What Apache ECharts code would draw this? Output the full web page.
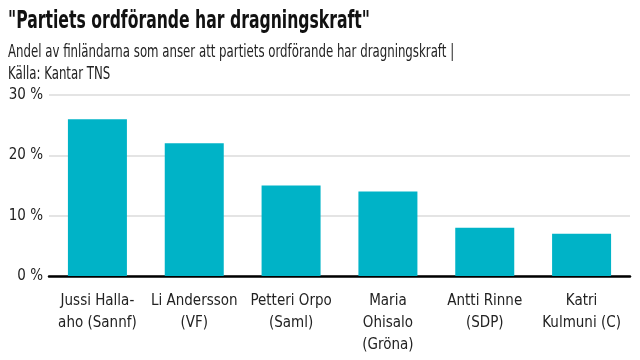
<!DOCTYPE html>
<html><head><meta charset="utf-8">
<script src="https://cdn.jsdelivr.net/npm/echarts@6/dist/echarts.min.js"></script>
<style>html,body{margin:0;padding:0;background:#fff}#c{width:640px;height:360px}</style>
</head><body><div id="c"></div>
<script>
const categories = ["Jussi Halla-\naho (Sannf)", "Li Andersson\n(VF)", "Petteri Orpo\n(Saml)", "Maria\nOhisalo\n(Gröna)", "Antti Rinne\n(SDP)", "Katri\nKulmuni (C)"];
const values = [26, 22, 15, 14, 8, 7];
const yTicks = [0, 10, 20, 30];
const titleText = '"Partiets ordförande har dragningskraft"';
const subtitleText = 'Andel av finländarna som anser att partiets ordförande har dragningskraft |\nKälla: Kantar TNS';

const FONT = '"Liberation Sans Narrow", "DejaVu Sans Condensed", sans-serif';
const chart = echarts.init(document.getElementById('c'));
chart.setOption({
  backgroundColor: '#fff',
  animation: false,
  graphic: [
    { type: 'text', x: 8, y: 10, scaleX: 0.725,
      style: { text: titleText, fontFamily: FONT, fontSize: 24, fontWeight: 'bold', fill: '#111', verticalAlign: 'top' } },
    { type: 'text', x: 8, y: 42, scaleX: 0.77,
      style: { text: subtitleText, fontFamily: FONT, fontSize: 17, fill: '#222', lineHeight: 22, verticalAlign: 'top' } }
  ],
  grid: { left: 49, right: 10, top: 95, bottom: 84 },
  xAxis: {
    type: 'category',
    data: categories,
    axisLine: { show: true, lineStyle: { color: '#000', width: 2.5 } },
    axisTick: { show: false },
    axisLabel: { fontFamily: FONT, fontSize: 15, color: '#222', lineHeight: 22, margin: 14, interval: 0 }
  },
  yAxis: {
    type: 'value',
    min: yTicks[0], max: yTicks[yTicks.length - 1], interval: 10,
    axisLine: { show: false },
    axisTick: { show: false },
    splitLine: { lineStyle: { color: '#e4e4e4', width: 2 } },
    axisLabel: { fontFamily: FONT, fontSize: 15, color: '#222', margin: 6, formatter: '{value} %' }
  },
  series: [{
    type: 'bar',
    data: values,
    barWidth: 59,
    itemStyle: { color: '#00b3c7' }
  }]
});
</script></body></html>
